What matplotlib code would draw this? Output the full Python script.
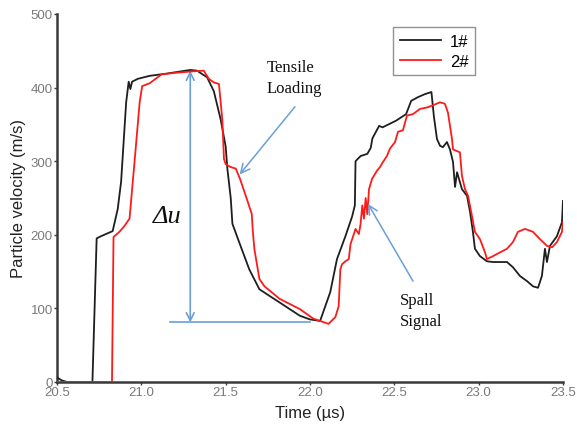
import matplotlib
matplotlib.use("Agg")
import matplotlib.pyplot as plt

# ---- data ----
t1 = [20.50, 20.53, 20.56, 20.71, 20.735, 20.76, 20.80, 20.83, 20.86, 20.88, 20.91, 20.925, 20.935, 20.945,
      20.98, 21.05, 21.15, 21.29, 21.33, 21.39, 21.43, 21.47, 21.50, 21.51, 21.53, 21.54, 21.58, 21.64,
      21.70, 21.82, 21.94, 22.00, 22.06, 22.12, 22.16, 22.21, 22.25, 22.266, 22.27, 22.30, 22.34, 22.36,
      22.37, 22.41, 22.43, 22.51, 22.57, 22.60, 22.64, 22.68, 22.72, 22.735, 22.753, 22.771, 22.788,
      22.812, 22.83, 22.848, 22.86, 22.872, 22.901, 22.931, 22.949, 22.966, 22.978, 23.008, 23.049,
      23.085, 23.168, 23.203, 23.245, 23.287, 23.322, 23.352, 23.375, 23.393, 23.405, 23.423, 23.464,
      23.494, 23.50]
v1 = [6, 2, 0, 0, 195, 198, 202, 205, 235, 272, 380, 408, 398, 408,
      412, 416, 419, 424, 423, 414, 395, 357, 320, 290, 250, 215, 190, 153,
      126, 108, 90, 85, 83, 122, 167, 198, 225, 240, 300, 307, 310, 318,
      331, 348, 346, 355, 364, 382, 387, 391, 394, 360, 330, 321, 319,
      326, 316, 299, 265, 285, 262, 253, 231, 204, 181, 171, 164,
      163, 163, 156, 144, 137, 130, 128, 144, 181, 163, 185, 198,
      217, 246]

t2 = [20.50, 20.826, 20.835, 20.87, 20.90, 20.93, 20.96, 20.99, 21.005, 21.05, 21.12, 21.20, 21.30,
      21.37, 21.40, 21.43, 21.46, 21.48, 21.49, 21.50, 21.53, 21.56, 21.585, 21.625, 21.655, 21.66,
      21.67, 21.70, 21.73, 21.82, 21.94, 22.02, 22.11, 22.15, 22.17, 22.18, 22.19, 22.21, 22.23,
      22.24, 22.27, 22.29, 22.30, 22.31, 22.32, 22.33, 22.34, 22.35, 22.368, 22.397, 22.415, 22.433,
      22.456, 22.474, 22.504, 22.522, 22.551, 22.575, 22.611, 22.652, 22.694, 22.729, 22.771, 22.80,
      22.818, 22.842, 22.848, 22.889, 22.901, 22.919, 22.937, 22.96, 22.978, 23.008, 23.038, 23.049,
      23.085, 23.126, 23.168, 23.203, 23.233, 23.275, 23.322, 23.364, 23.405, 23.435, 23.464,
      23.494, 23.50]
v2 = [0, 0, 197, 204, 212, 222, 300, 380, 402, 406, 418, 420, 422,
      423, 412, 407, 405, 357, 303, 296, 292, 290, 276, 249, 228, 208,
      181, 140, 130, 113, 99, 86, 79, 88, 103, 153, 160, 164, 167,
      187, 208, 201, 215, 240, 222, 250, 228, 262, 276, 287, 292, 299,
      307, 317, 326, 340, 342, 362, 364, 371, 373, 376, 380, 378,
      366, 330, 316, 312, 280, 262, 253, 226, 204, 194, 176, 167,
      171, 176, 181, 190, 204, 208, 204, 194, 185, 183, 190,
      204, 217]

series_labels = ["1#", "2#"]
x_ticks = [20.5, 21.0, 21.5, 22.0, 22.5, 23.0, 23.5]
y_ticks = [0, 100, 200, 300, 400, 500]

# annotation anchors (data units)
du_x, du_top, du_bot = 21.29, 423, 81
hline_x0, hline_x1, hline_y = 21.17, 22.0, 81
tensile_tip = (21.583, 282)
tensile_tail = (21.911, 374)
spall_tip = (22.344, 242)
spall_tail = (22.611, 137)

# ---- figure ----
fig = plt.figure(figsize=(5.77, 4.31), dpi=100)
ax = fig.add_axes([0.0988, 0.1114, 0.8769, 0.8538])

blue = "#6a9fd8"
ax.plot(t1, v1, color="#1e1e1e", lw=1.3, label=series_labels[0], zorder=3)
ax.plot(t2, v2, color="#ff1a1a", lw=1.3, label=series_labels[1], zorder=3)

ax.set_xlim(20.5, 23.5)
ax.set_ylim(0, 500)
ax.set_xticks(x_ticks)
ax.set_xticklabels([f"{v:.1f}" for v in x_ticks])
ax.set_yticks(y_ticks)
ax.set_yticklabels([str(v) for v in y_ticks])

for s in ["top", "right"]:
    ax.spines[s].set_visible(False)
for s in ["left", "bottom"]:
    ax.spines[s].set_color("#3a3a3a")
    ax.spines[s].set_linewidth(1.8)
ax.tick_params(axis="both", length=2, width=1, color="#3a3a3a", pad=1,
               labelsize=9.5, labelcolor="#7a7a7a")
for lab in ax.get_xticklabels() + ax.get_yticklabels():
    lab.set_family("Liberation Sans")

ax.set_xlabel("Time (\u00b5s)", fontsize=12, family="Liberation Sans", color="#222222", labelpad=5)
ax.set_ylabel("Particle velocity (m/s)", fontsize=12, family="Liberation Sans", color="#222222", labelpad=3)

# delta-u arrow and baseline
ax.annotate("", xy=(du_x, du_top), xytext=(du_x, du_bot),
            arrowprops=dict(arrowstyle="<->", color=blue, lw=1.2, mutation_scale=14,
                            shrinkA=0, shrinkB=0), zorder=2)
ax.plot([hline_x0, hline_x1], [hline_y, hline_y], color=blue, lw=1.2, zorder=2)
ax.text(21.152, 225, "\u0394u", fontsize=19, family="Liberation Serif", style="italic",
        ha="center", va="center", color="#111111")

# tensile loading
ax.annotate("", xy=tensile_tip, xytext=tensile_tail,
            arrowprops=dict(arrowstyle="->", color=blue, lw=1.1, mutation_scale=16,
                            shrinkA=0, shrinkB=0))
ax.text(21.745, 414, "Tensile\nLoading", fontsize=12, family="Liberation Serif",
        ha="left", va="center", linespacing=1.45, color="#111111")

# spall signal
ax.annotate("", xy=spall_tip, xytext=spall_tail,
            arrowprops=dict(arrowstyle="->", color=blue, lw=1.1, mutation_scale=16,
                            shrinkA=0, shrinkB=0))
ax.text(22.534, 97, "Spall\nSignal", fontsize=12, family="Liberation Serif",
        ha="left", va="center", linespacing=1.4, color="#111111")

leg = ax.legend(loc="upper left", bbox_to_anchor=(0.664, 0.965), borderaxespad=0,
                frameon=True, fancybox=False, edgecolor="#777777",
                handlelength=2.5, borderpad=0.4, labelspacing=0.3, handletextpad=0.5,
                prop={"family": "Liberation Sans", "size": 12})
leg.get_frame().set_linewidth(1.0)

fig.savefig("out.png", dpi=100)
